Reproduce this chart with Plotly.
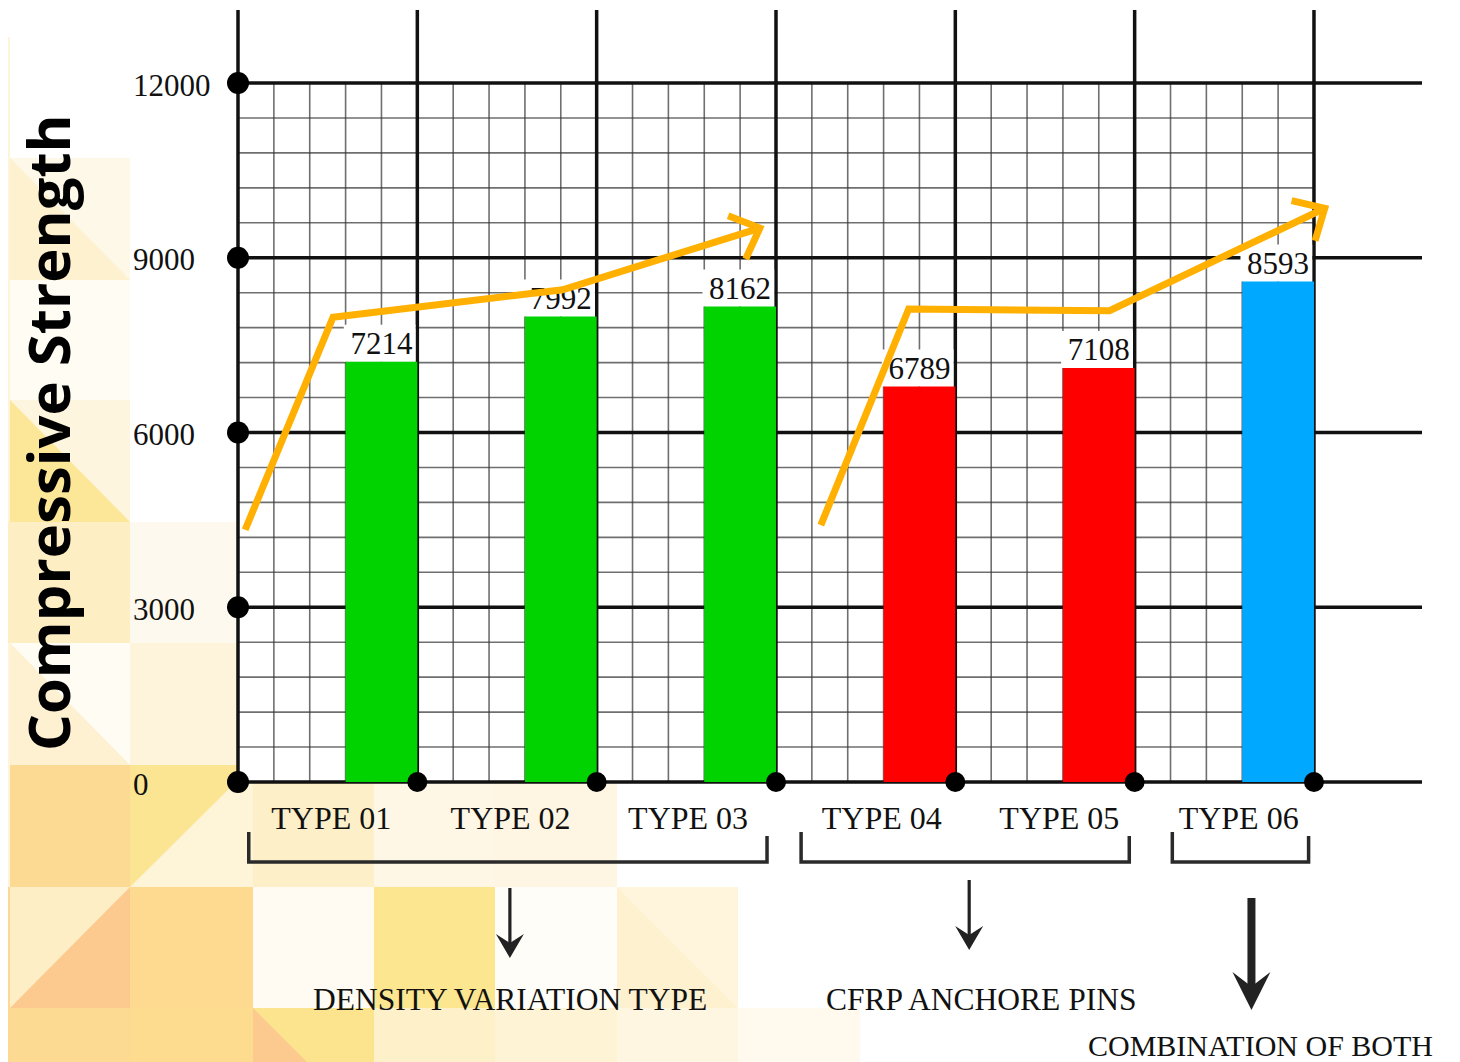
import math
import plotly.graph_objects as go

# ---------------- data ----------------
categories = ["TYPE 01", "TYPE 02", "TYPE 03", "TYPE 04", "TYPE 05", "TYPE 06"]
strength = [7214, 7992, 8162, 6789, 7108, 8593]
bar_colors = ["#00D300", "#00D300", "#00D300", "#FF0000", "#FF0000", "#00A8FF"]
y_ticks = [0, 3000, 6000, 9000, 12000]
group_names = ["DENSITY VARIATION TYPE", "CFRP ANCHORE PINS", "COMBINATION OF BOTH"]
group_first = [0, 3, 5]
group_last = [2, 4, 5]
# hand drawn trend arrows (x in category columns, y in strength units)
trend_a_x = [0.04, 0.53, 1.81, 2.91]
trend_a_y = [4330, 7980, 8450, 9510]
trend_b_x = [3.25, 3.74, 4.86, 6.06]
trend_b_y = [4410, 8120, 8090, 9850]

# ---------------- geometry / style (page pixels) ----------------
PAGE_W, PAGE_H, OFF = 1460, 1062, 8          # browser body margin = 8 px
W, H = PAGE_W - OFF, PAGE_H - OFF
PL, PR, PT, PB = 214, 1450, 9, 792           # plot area, page pixels
X0_PX, SX = 238.0, 179.33                    # page px of x=0, px per column
Y0_PX, SY = 782.0, 699.0 / 12000.0           # page px of y=0, px per unit
x_range = [(PL - X0_PX) / SX, (PR - X0_PX) / SX]
y_range = [(Y0_PX - PB) / SY, (Y0_PX - PT) / SY]


def pxx(px):
    return (px - PL) / (PR - PL)


def pxy(py):
    return (PB - py) / (PB - PT)


def dx(px):
    return px / SX


MAJOR = "#111111"
MINOR = "rgba(55,55,55,0.72)"
ORANGE = "#FFB000"
SERIF = "Liberation Serif"
Y_TOP_LINE = (Y0_PX - 10) / SY
X_RIGHT_LINE = (1422 - X0_PX) / SX
n_col = len(categories)

shapes = []

# ---------------- decorative background pattern (page pixels) ----------------
rects = [
    (0, 37, 10, 887, "#FEF4DA"), (0, 887, 10, 1062, "#FDD893"),
    (10, 158, 130, 280, "#FDF1D0"), (10, 280, 130, 400, "#FFFCF4"),
    (10, 400, 130, 522, "#FEF5DE"), (0, 522, 130, 643, "#FDEEC4"),
    (130, 522, 253, 643, "#FEF9EE"), (10, 643, 130, 765, "#FDF1D2"),
    (130, 643, 253, 765, "#FEF4DB"), (10, 765, 130, 887, "#FDDA94"),
    (130, 765, 253, 887, "#FEF4D8"), (253, 765, 374, 887, "#FDEFC8"),
    (374, 765, 495, 887, "#FEF7E6"), (495, 765, 617, 887, "#FEF6E2"),
    (10, 887, 130, 1008, "#FCC98E"), (130, 887, 253, 1008, "#FDDA8F"),
    (253, 887, 374, 1008, "#FFFBF2"), (374, 887, 495, 1008, "#FCE68F"),
    (495, 887, 617, 1008, "#FFFDF8"), (617, 887, 738, 1008, "#FEF5DC"),
    (10, 1008, 130, 1062, "#FDDA91"), (130, 1008, 253, 1062, "#FDDC8F"),
    (253, 1008, 374, 1062, "#FCE48F"), (374, 1008, 495, 1062, "#FEF0C9"),
    (495, 1008, 617, 1062, "#FEF3D4"), (617, 1008, 738, 1062, "#FEF6E0"),
    (738, 1008, 860, 1062, "#FFF9EE"),
]
tris = [
    ((10, 158), (130, 158), (130, 280), "#FEF8E8"),
    ((10, 400), (10, 522), (130, 522), "#FCE697"),
    ((10, 643), (130, 643), (130, 765), "#FFFCF4"),
    ((130, 765), (253, 765), (130, 887), "#FCE592"),
    ((10, 887), (130, 887), (10, 1008), "#FDEEC6"),
    ((253, 1008), (307, 1062), (253, 1062), "#FCC98E"),
    ((617, 887), (617, 1008), (738, 1008), "#FEF1CF"),
]
for x0, y0, x1, y1, c in rects:
    shapes.append(dict(type="rect", xref="paper", yref="paper", x0=pxx(x0), x1=pxx(x1),
                       y0=pxy(y1), y1=pxy(y0), fillcolor=c, line=dict(width=0), layer="below"))
for a, b, c, col in tris:
    path = "M {:.5f},{:.5f} L {:.5f},{:.5f} L {:.5f},{:.5f} Z".format(
        pxx(a[0]), pxy(a[1]), pxx(b[0]), pxy(b[1]), pxx(c[0]), pxy(c[1]))
    shapes.append(dict(type="path", xref="paper", yref="paper", path=path,
                       fillcolor=col, line=dict(width=0), layer="below"))

# white graph paper area
shapes.append(dict(type="rect", xref="x", yref="y", x0=0, x1=X_RIGHT_LINE, y0=0, y1=Y_TOP_LINE,
                   fillcolor="white", line=dict(width=0), layer="below"))

# ---------------- graph paper grid ----------------
minor_step_y = 600
for k in range(1, int(12000 / minor_step_y)):
    v = k * minor_step_y
    if v % 3000:
        shapes.append(dict(type="line", xref="x", yref="y", x0=0, x1=n_col, y0=v, y1=v,
                           line=dict(color=MINOR, width=1.6), layer="below"))
for k in range(1, n_col * 5):
    if k % 5:
        v = k / 5
        shapes.append(dict(type="line", xref="x", yref="y", x0=v, x1=v, y0=0, y1=12000,
                           line=dict(color=MINOR, width=1.6), layer="below"))
for v in y_ticks:
    shapes.append(dict(type="line", xref="x", yref="y", x0=0, x1=X_RIGHT_LINE, y0=v, y1=v,
                       line=dict(color=MAJOR, width=3.5), layer="below"))
for i in range(n_col + 1):
    shapes.append(dict(type="line", xref="x", yref="y", x0=i, x1=i, y0=0, y1=Y_TOP_LINE,
                       line=dict(color=MAJOR, width=3.5), layer="below"))

# white backing behind value labels (hides the grid, stays under the trend line)
bar_x = [i + 0.8 for i in range(n_col)]
label_box_px = 37
for xv, v in zip(bar_x, strength):
    shapes.append(dict(type="rect", xref="x", yref="y", x0=xv - 0.21, x1=xv + 0.19,
                       y0=v, y1=v + label_box_px / SY, fillcolor="white",
                       line=dict(width=0), layer="below"))

# ---------------- brackets, arrows, group labels ----------------
bracket_inset_l = [0.06, 0.14, 0.21]
bracket_inset_r = [0.05, 0.03, 0.03]
arrow_shift_px = [2, 4, 11]
label_shift_px = [2, 16, 20]
arrow_top_px = [888, 880, 898]
arrow_tip_px = [958, 950, 1010]
arrow_shaft_w = [3.2, 3.2, 8]
arrow_head_w = [28, 28, 38]
arrow_head_h = [24, 24, 38]
label_y_px = [999, 999, 1045]
label_size = [31.5, 31.5, 30]
annotations = []
for g in range(len(group_names)):
    bx0 = group_first[g] + bracket_inset_l[g]
    bx1 = group_last[g] + 1 - bracket_inset_r[g]
    path = "M {0},{1} L {0},{2} L {3},{2} L {3},{4}".format(bx0, pxy(832), pxy(862), bx1, pxy(836))
    shapes.append(dict(type="path", xref="x", yref="paper", path=path,
                       line=dict(color="#2a2a2a", width=3.5)))
    cx = (bx0 + bx1) / 2
    ax = cx + dx(arrow_shift_px[g])
    tip = arrow_tip_px[g]
    hh = arrow_head_h[g]
    hw = arrow_head_w[g] / 2
    shapes.append(dict(type="line", xref="x", yref="paper", x0=ax, x1=ax,
                       y0=pxy(arrow_top_px[g]), y1=pxy(tip - hh * 0.5),
                       line=dict(color="#222222", width=arrow_shaft_w[g])))
    head = "M {0},{1} L {2},{3} L {0},{4} L {5},{3} Z".format(
        ax, pxy(tip), ax - dx(hw), pxy(tip - hh), pxy(tip - hh * 0.62), ax + dx(hw))
    shapes.append(dict(type="path", xref="x", yref="paper", path=head,
                       fillcolor="#222222", line=dict(width=0)))
    annotations.append(dict(x=cx, y=pxy(label_y_px[g]), xref="x", yref="paper",
                            xshift=label_shift_px[g], text=group_names[g], showarrow=False,
                            xanchor="center", yanchor="middle",
                            font=dict(family=SERIF, size=label_size[g], color="#111111")))

# y tick labels (left aligned, as in the original figure), placed on the y scale
for v in y_ticks:
    annotations.append(dict(x=pxx(131), y=v, xref="paper", yref="y", text=str(v),
                            showarrow=False, xanchor="left", yanchor="middle", yshift=-2,
                            font=dict(family=SERIF, size=31, color="#111111")))

# y-axis title
annotations.append(dict(x=pxx(47), y=pxy(433), xref="paper", yref="paper",
                        text="Compressive Strength", textangle=-90, showarrow=False,
                        xanchor="center", yanchor="middle", borderpad=0,
                        font=dict(family="Open Sans", size=58, color="black", weight="bold")))

# ---------------- traces ----------------
fig = go.Figure()
fig.add_trace(go.Bar(x=bar_x, y=strength, width=0.4, marker=dict(color=bar_colors, line=dict(width=0)),
                     showlegend=False, hoverinfo="x+y"))
fig.add_trace(go.Scatter(x=bar_x, y=strength, mode="text", text=[str(v) for v in strength],
                         textposition="top center",
                         textfont=dict(family=SERIF, size=31, color="#111111"),
                         showlegend=False, hoverinfo="skip", cliponaxis=False))


def arrow_arms(xs, ys, length_px=34, spread_deg=48):
    # arrowhead arms computed from the last segment direction, in pixel space
    x1p, y1p = X0_PX + xs[-1] * SX, Y0_PX - ys[-1] * SY
    x0p, y0p = X0_PX + xs[-2] * SX, Y0_PX - ys[-2] * SY
    back = math.atan2(y0p - y1p, x0p - x1p)
    ax, ay = [], []
    for s in (-1, 1):
        a = back + s * math.radians(spread_deg) * (0.8 if s > 0 else 1.0)
        px = x1p + length_px * math.cos(a)
        py = y1p + length_px * math.sin(a)
        ax += [(px - X0_PX) / SX, xs[-1]]
        ay += [(Y0_PX - py) / SY, ys[-1]]
    return [ax[0], ax[1], ax[2]], [ay[0], ay[1], ay[2]]


for tx, ty in ((trend_a_x, trend_a_y), (trend_b_x, trend_b_y)):
    fig.add_trace(go.Scatter(x=tx, y=ty, mode="lines", line=dict(color=ORANGE, width=7),
                             showlegend=False, hoverinfo="skip", cliponaxis=False))
    hx, hy = arrow_arms(tx, ty)
    fig.add_trace(go.Scatter(x=hx, y=hy, mode="lines", line=dict(color=ORANGE, width=7),
                             showlegend=False, hoverinfo="skip", cliponaxis=False))

# axis dots
fig.add_trace(go.Scatter(x=[0] * len(y_ticks), y=y_ticks, mode="markers",
                         marker=dict(color="black", size=22), showlegend=False,
                         hoverinfo="skip", cliponaxis=False))
fig.add_trace(go.Scatter(x=list(range(1, n_col + 1)), y=[0] * n_col, mode="markers",
                         marker=dict(color="black", size=20), showlegend=False,
                         hoverinfo="skip", cliponaxis=False))

tick_shift = [0.02, 0.02, 0.01, 0.09, 0.08, 0.08]
fig.update_layout(
    width=W, height=H,
    margin=dict(l=PL - OFF, r=PAGE_W - PR, t=PT - OFF, b=PAGE_H - PB),
    paper_bgcolor="white", plot_bgcolor="rgba(0,0,0,0)",
    shapes=shapes, annotations=annotations, showlegend=False,
    xaxis=dict(range=x_range, showgrid=False, zeroline=False, showline=False,
               tickvals=[i + 0.5 + s for i, s in zip(range(n_col), tick_shift)], ticktext=categories,
               tickfont=dict(family=SERIF, size=32, color="#111111"), ticks="",
               ticklabelstandoff=4, fixedrange=True),
    yaxis=dict(range=y_range, showgrid=False, zeroline=False, showline=False,
               tickvals=y_ticks, showticklabels=False, ticks="", fixedrange=True),
)

fig.write_html("out.html")
